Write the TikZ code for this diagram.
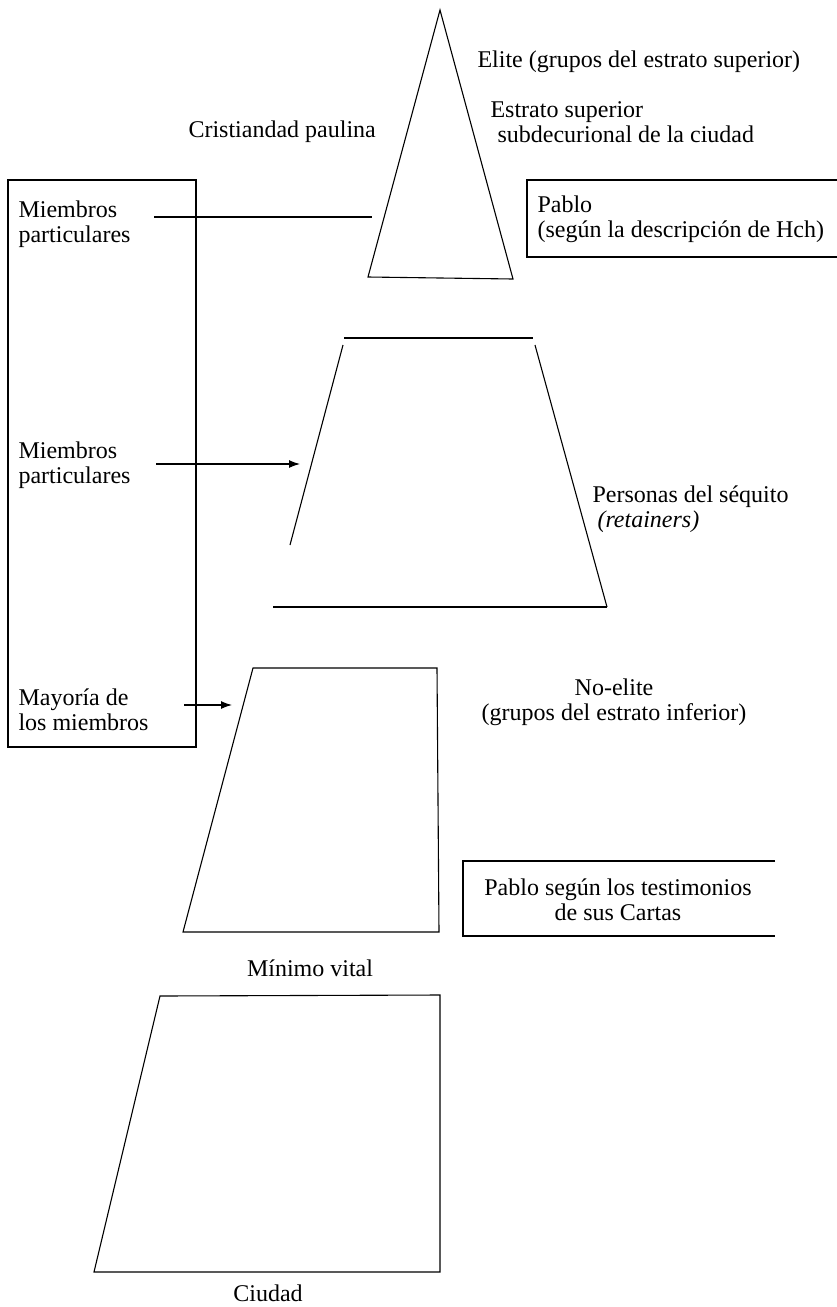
\documentclass[tikz,border=0pt]{standalone}
\usepackage{fontspec}
\setmainfont{Liberation Serif}
\usetikzlibrary{arrows.meta}
\tikzset{
  etiq/.style={inner sep=0pt, font=\fontsize{24}{25}\selectfont},
  flecha/.style={-{Latex[length=11pt,width=8pt]}},
}
\begin{document}
\begin{tikzpicture}[x=1pt,y=-1pt,line width=1.1pt]
    \useasboundingbox (0,0) rectangle (837,1307);

    \coordinate (apice) at (440,10);
    \coordinate (eliteizq) at (368,277);
    \coordinate (eliteder) at (513,279);
    \draw (eliteizq) -- (apice) -- (eliteder) -- cycle;

    \coordinate (secizq) at (344,338);
    \coordinate (secder) at (533,338);
    \draw (secizq) -- (secder);
    \draw (343,345) -- (290,545);
    \draw (535,345) -- (607,607);
    \draw (273,607) -- (607,607);

    \draw (253,668) -- (437,668) -- (439,932) -- (183,932) -- cycle;
    \draw (160,996) -- (440,995) -- (440,1272) -- (94,1272) -- cycle;

    \draw (8,180) rectangle (196,747);
    \draw (837,180) -- (527,180) -- (527,257) -- (837,257);
    \draw (775,861) -- (463,861) -- (463,936) -- (775,936);

    \node[etiq, anchor=west] (elite) at (477,62) {Elite (grupos del estrato superior)};
    \node[etiq, anchor=west, align=left] (estrato) at (490,122) {Estrato superior\\\hspace*{7pt}subdecurional de la ciudad};
    \node[etiq, anchor=west] (cristiandad) at (188,132) {Cristiandad paulina};
    \node[etiq, anchor=west, align=left] (miembros1) at (18,224) {Miembros\\particulares};
    \node[etiq, anchor=west, align=left] (pablohch) at (537,219) {Pablo\\(según la descripción de Hch)};
    \node[etiq, anchor=west, align=left] (miembros2) at (18,465) {Miembros\\particulares};
    \node[etiq, anchor=west, align=left] (sequito) at (592,509) {Personas del séquito\\\hspace*{5pt}\textit{(retainers)}};
    \node[etiq, anchor=west, align=left] (mayoria) at (18,710) {Mayoría de\\los miembros};
    \node[etiq, align=center] (noelite) at (614,702) {No-elite\\(grupos del estrato inferior)};
    \node[etiq, align=center] (pablocartas) at (618,900) {Pablo según los testimonios\\de sus Cartas};
    \node[etiq] (minimo) at (310,968) {Mínimo vital};
    \node[etiq] (ciudad) at (268,1293) {Ciudad};

    \coordinate (fin1) at (372,217);
    \coordinate (fin2) at (300,464);
    \coordinate (fin3) at (232,705);
    \draw ([xshift=23pt]miembros1.east |- fin1) -- (fin1);
    \draw[flecha] ([xshift=25pt]miembros2.east |- fin2) -- (fin2);
    \draw[flecha] ([xshift=35pt]mayoria.east |- fin3) -- (fin3);
\end{tikzpicture}
\end{document}
